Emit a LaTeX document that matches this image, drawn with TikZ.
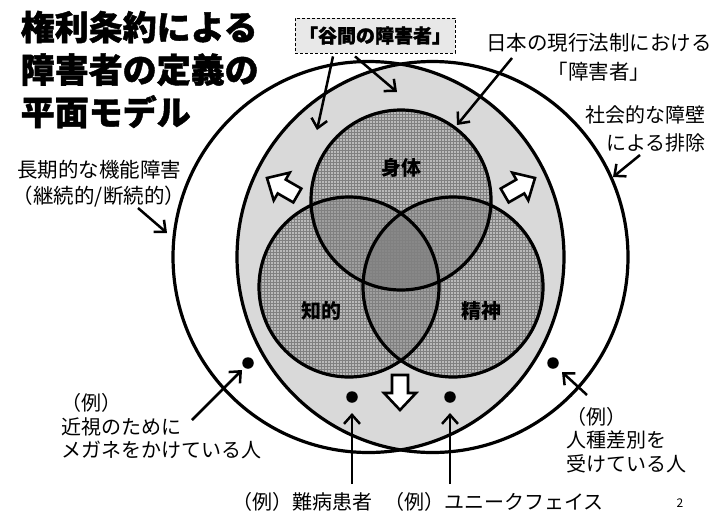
\documentclass[tikz,border=0pt]{standalone}
\usepackage{fontspec}
\setmainfont{Noto Sans CJK JP}
\newfontfamily\heavyfont{Noto Sans CJK JP}[BoldFeatures={FakeBold=1.3}]
\usetikzlibrary{arrows.meta,patterns}
\definecolor{lensgray}{RGB}{217,217,217}
\definecolor{boxgray}{RGB}{232,232,232}
\newcommand{\blockarr}[3]{%
  \draw[line width=2.6pt,fill=white,line join=miter,shift={(#1,#2)},rotate=#3]
    (0,0) -- (-17,16) -- (-17,8) -- (-35,8) -- (-35,-8) -- (-17,-8) -- (-17,-16) -- cycle;}
\begin{document}
\begin{tikzpicture}[x=1pt,y=-1pt,
  ptr/.style={line width=2.5pt,-{Straight Barb[length=9pt,width=16pt]}},
  bigline/.style={line width=3.2pt},
  lbl/.style={inner sep=0pt,font=\fontsize{20}{23.5}\selectfont},
  vlbl/.style={inner sep=0pt,font=\bfseries\fontsize{20}{20}\selectfont},
  dot/.style={circle,fill=black,inner sep=0pt,minimum size=11.5pt}]
\useasboundingbox (0,0) rectangle (727,525);
% big circles
\coordinate (CL) at (368.5,257);
\coordinate (CR) at (432.5,257);
\begin{scope}
  \clip (CL) circle[radius=195.5pt];
  \fill[lensgray] (CR) circle[radius=195.5pt];
\end{scope}
% venn circles
\coordinate (VT) at (401,200);
\coordinate (VL) at (349,287);
\coordinate (VR) at (453,287);
\foreach \c in {VT,VL,VR} \fill[black,fill opacity=0.14] (\c) circle[radius=90pt];
\foreach \c in {VT,VL,VR} \fill[pattern=grid,pattern color=black!50] (\c) circle[radius=90pt];
\foreach \c in {VT,VL,VR} \draw[bigline] (\c) circle[radius=90pt];
\draw[bigline] (CL) circle[radius=195.5pt];
\draw[bigline] (CR) circle[radius=195.5pt];
% venn labels
\node[vlbl] (body) at (401,168) {身体};
\node[vlbl] (intel) at (321,311) {知的};
\node[vlbl] (mental) at (481,311) {精神};
% block arrows
\blockarr{267}{178}{150}
\blockarr{535}{178}{30}
\blockarr{400}{410}{-90}
% title
\node[anchor=west,align=left,inner sep=0pt,font=\heavyfont\bfseries\fontsize{34}{42.5}\selectfont] (title) at (20.5,69.5) {権利条約による\\障害者の定義の\\平面モデル};
% top box
\node[draw,dashed,dash pattern=on 3pt off 2pt,fill=boxgray,line width=0.8pt,minimum width=160pt,minimum height=35pt,inner sep=0pt,font=\heavyfont\bfseries\fontsize{19}{19}\selectfont] (gap) at (375,35.5) {「谷間の障害者」};
\coordinate (gapT1) at (317,130);
\coordinate (gapT2) at (397,92);
\draw[ptr] ([xshift=-42pt,yshift=-3pt]gap.south) -- (gapT1);
\draw[ptr] ([xshift=-20pt,yshift=-3pt]gap.south) -- (gapT2);
% japan law
\node[lbl,align=center,font=\fontsize{20.5}{29}\selectfont] (law) at (599,57.5) {日本の現行法制における\\「障害者」};
\coordinate (lawS) at (512,58);
\coordinate (lawT) at (457,125);
\draw[ptr] (lawS) -- (lawT);
% social barrier
\node[lbl,align=right,anchor=east,font=\fontsize{20}{28}\selectfont] (social) at (706,129) {社会的な障壁\\による排除};
\coordinate (socS) at (640,155);
\coordinate (socT) at (613,177);
\draw[ptr] (socS) -- (socT);
% long-term impairment
\node[lbl,align=center,font=\fontsize{20.5}{26}\selectfont] (longterm) at (99,184) {長期的な機能障害\\（継続的/断続的）};
\coordinate (ltS) at (138,208);
\coordinate (ltT) at (167,233);
\draw[ptr] (ltS) -- (ltT);
% dots
\node[dot] (d1) at (248,363) {};
\node[dot] (d2) at (352,397) {};
\node[dot] (d3) at (450,397) {};
\node[dot] (d4) at (553,363) {};
% labels for dots
\node[lbl,align=left,anchor=west] (myopia) at (61,426.5) {（例）\\近視のために\\メガネをかけている人};
\coordinate (myS) at (192,420);
\draw[ptr] (myS) -- ([shift={(-6pt,-7pt)}]d1.center);
\node[lbl] (rare) at (302,502) {（例）難病患者};
\coordinate (rareS) at (352,484);
\draw[ptr] (rareS) -- ([yshift=-16pt]d2.center);
\node[lbl] (unique) at (494,502) {（例）ユニークフェイス};
\coordinate (uniS) at (450,484);
\draw[ptr] (uniS) -- ([yshift=-16pt]d3.center);
\node[lbl,align=left,anchor=west] (racism) at (566,440) {（例）\\人種差別を\\受けている人};
\coordinate (racS) at (587,395);
\draw[ptr] (racS) -- ([shift={(9pt,-9pt)}]d4.center);
% page number
\node[inner sep=0pt,font=\fontsize{12}{12}\selectfont] (page) at (680,503) {2};
\end{tikzpicture}
\end{document}
